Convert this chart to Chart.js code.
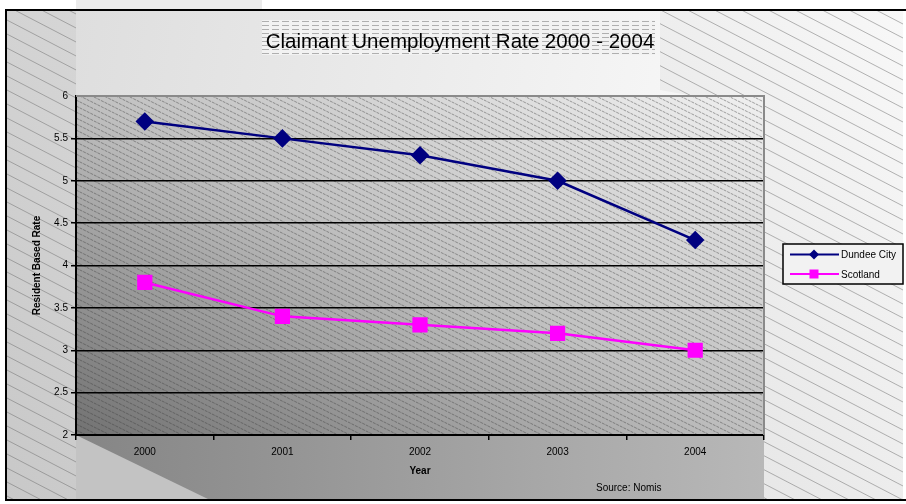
<!DOCTYPE html>
<html>
<head>
<meta charset="utf-8">
<script src="https://cdn.jsdelivr.net/npm/chart.js@4.4.1/dist/chart.umd.min.js"></script>
<style>
  html, body { margin: 0; padding: 0; background: #fff; }
</style>
</head>
<body>
<canvas id="chart" width="906" height="504"></canvas>
<script>
// data
const years = ['2000', '2001', '2002', '2003', '2004'];
const dundee = [5.7, 5.5, 5.3, 5.0, 4.3];
const scotland = [3.8, 3.4, 3.3, 3.2, 3.0];
const seriesNames = ['Dundee City', 'Scotland'];
const chartTitle = 'Claimant Unemployment Rate 2000 - 2004';
const sourceNote = 'Source: Nomis';
const yTitle = 'Resident Based Rate';
const xTitle = 'Year';

const FONT = 'Liberation Sans, Arial, sans-serif';

// diagonal hatch lines inside a rectangle
function hatch(ctx, x, y, w, h, gap, slope, color, dash) {
  ctx.save();
  ctx.beginPath();
  ctx.rect(x, y, w, h);
  ctx.clip();
  ctx.strokeStyle = color;
  ctx.lineWidth = 1;
  if (dash) ctx.setLineDash(dash);
  ctx.beginPath();
  for (let c = y - slope * w - gap; c < y + h + gap; c += gap) {
    ctx.moveTo(x, c);
    ctx.lineTo(x + w, c + slope * w);
  }
  ctx.stroke();
  ctx.restore();
}

function marker(ctx, style, x, y, r, color) {
  ctx.fillStyle = color;
  ctx.beginPath();
  if (style === 'rectRot') {
    ctx.moveTo(x, y - r);
    ctx.lineTo(x + r, y);
    ctx.lineTo(x, y + r);
    ctx.lineTo(x - r, y);
  } else {
    ctx.rect(x - r, y - r, 2 * r, 2 * r);
  }
  ctx.closePath();
  ctx.fill();
}

// Excel style backgrounds behind the chart
const backdrop = {
  id: 'backdrop',
  beforeDraw(chart) {
    const ctx = chart.ctx;
    const a = chart.chartArea;
    const W = chart.width, H = chart.height;
    const fx = 6, fy = 10, fr = W - 3, fb = H - 4;
    ctx.save();
    ctx.fillStyle = '#fff';
    ctx.fillRect(0, 0, W, H);
    ctx.fillStyle = '#ebebeb';
    ctx.fillRect(a.left, 0, 186, fy);

    // frame fill
    let g = ctx.createLinearGradient(fx, fb, fr, fy);
    g.addColorStop(0, '#c8c8c8');
    g.addColorStop(0.5, '#e0e0e0');
    g.addColorStop(1, '#f8f8f8');
    ctx.fillStyle = g;
    ctx.fillRect(fx, fy, fr - fx, fb - fy);
    hatch(ctx, fx, fy, fr - fx, fb - fy, 14, 0.52, 'rgba(110,110,110,0.5)');

    // top strip above the plot
    g = ctx.createLinearGradient(a.left, fy, a.left + 600, a.top);
    g.addColorStop(0, '#dedede');
    g.addColorStop(1, '#f6f6f6');
    ctx.fillStyle = g;
    ctx.beginPath();
    ctx.moveTo(a.left, fy);
    ctx.lineTo(a.left + 584, fy);
    ctx.lineTo(a.left + 584, a.top - 6);
    ctx.lineTo(a.right - 70, a.top);
    ctx.lineTo(a.left, a.top);
    ctx.closePath();
    ctx.fill();

    // bottom strip under the plot
    g = ctx.createLinearGradient(a.left, a.bottom, a.right, a.bottom);
    g.addColorStop(0, '#858585');
    g.addColorStop(1, '#b8b8b8');
    ctx.fillStyle = g;
    ctx.fillRect(a.left, a.bottom, a.right - a.left, fb - a.bottom);
    ctx.fillStyle = '#c3c3c3';
    ctx.beginPath();
    ctx.moveTo(a.left, a.bottom);
    ctx.lineTo(a.left + 134, fb);
    ctx.lineTo(a.left, fb);
    ctx.closePath();
    ctx.fill();

    // plot area gradient, dark bottom-left to light top-right
    const cx = (a.left + a.right) / 2, cy = (a.top + a.bottom) / 2;
    const w = a.right - a.left, h = a.bottom - a.top;
    const len = Math.hypot(w, h);
    const dx = h / len, dy = -w / len;
    const k = (w / 2) * dx + (h / 2) * -dy;
    g = ctx.createLinearGradient(cx - k * dx, cy - k * dy, cx + k * dx, cy + k * dy);
    g.addColorStop(0, '#727272');
    g.addColorStop(0.5, '#c0c0c0');
    g.addColorStop(1, '#f0f0f0');
    ctx.fillStyle = g;
    ctx.fillRect(a.left, a.top, w, h);
    hatch(ctx, a.left, a.top, w, h, 6, 0.5, 'rgba(60,60,60,0.45)', [3, 1]);

    // title box with horizontal dashes
    ctx.fillStyle = '#f2f2f2';
    ctx.fillRect(262, 20, 393, 35);
    ctx.strokeStyle = 'rgba(130,130,130,0.6)';
    ctx.lineWidth = 1;
    ctx.setLineDash([7, 3]);
    ctx.beginPath();
    for (let yy = 21.5; yy < 55; yy += 4) {
      ctx.moveTo(262, yy);
      ctx.lineTo(655, yy);
    }
    ctx.stroke();
    ctx.setLineDash([]);
    ctx.restore();
  },
  beforeDatasetsDraw(chart) {
    const ctx = chart.ctx;
    const a = chart.chartArea;
    ctx.save();
    ctx.strokeStyle = '#8a8a8a';
    ctx.lineWidth = 2;
    ctx.beginPath();
    ctx.moveTo(a.left, a.top);
    ctx.lineTo(a.right, a.top);
    ctx.lineTo(a.right, a.bottom);
    ctx.stroke();
    ctx.restore();
  },
  afterDraw(chart) {
    const ctx = chart.ctx;
    const a = chart.chartArea;
    const W = chart.width, H = chart.height;
    ctx.save();
    // title
    ctx.fillStyle = '#000';
    ctx.font = '20.5px ' + FONT;
    ctx.textAlign = 'center';
    ctx.textBaseline = 'alphabetic';
    ctx.fillText(chartTitle, 460, 48);
    // source note
    ctx.font = '10px ' + FONT;
    ctx.textAlign = 'left';
    ctx.fillText(sourceNote, 596, 491);

    // legend
    const lx = a.right + 19, ly = 244, lw = 120, lh = 40;
    ctx.fillStyle = '#f2f2f2';
    ctx.fillRect(lx, ly, lw, lh);
    ctx.strokeStyle = '#000';
    ctx.lineWidth = 1.5;
    ctx.strokeRect(lx, ly, lw, lh);
    chart.data.datasets.forEach((ds, i) => {
      const yy = ly + 10.5 + i * 19.5;
      ctx.strokeStyle = ds.borderColor;
      ctx.lineWidth = 2;
      ctx.beginPath();
      ctx.moveTo(lx + 7, yy);
      ctx.lineTo(lx + 56, yy);
      ctx.stroke();
      marker(ctx, ds.pointStyle, lx + 31, yy, ds.pointStyle === 'rectRot' ? 5 : 4.5, ds.backgroundColor);
      ctx.fillStyle = '#000';
      ctx.font = '10px ' + FONT;
      ctx.textBaseline = 'middle';
      ctx.fillText(ds.label, lx + 58, yy + 1);
    });

    // outer frame
    ctx.strokeStyle = '#000';
    ctx.lineWidth = 2;
    ctx.strokeRect(6, 10, W + 10, H - 14);
    ctx.restore();
  }
};

const ctx = document.getElementById('chart');

new Chart(ctx, {
  type: 'line',
  data: {
    labels: years,
    datasets: [{
      label: seriesNames[0],
      data: dundee,
      borderColor: '#000080',
      backgroundColor: '#000080',
      pointBackgroundColor: '#000080',
      pointBorderColor: '#000080',
      borderWidth: 2.5,
      pointStyle: 'rectRot',
      pointRadius: 7.5,
      pointHoverRadius: 7.5,
      tension: 0
    }, {
      label: seriesNames[1],
      data: scotland,
      borderColor: '#ff00ff',
      backgroundColor: '#ff00ff',
      pointBackgroundColor: '#ff00ff',
      pointBorderColor: '#ff00ff',
      borderWidth: 2.5,
      pointStyle: 'rect',
      pointRadius: 9,
      pointHoverRadius: 9,
      tension: 0
    }]
  },
  options: {
    responsive: false,
    animation: false,
    devicePixelRatio: 1,
    layout: { padding: { top: 96, right: 142, left: 0, bottom: 0 } },
    plugins: {
      legend: { display: false },
      tooltip: { enabled: false },
      title: { display: false }
    },
    scales: {
      x: {
        offset: true,
        grid: { display: true, drawOnChartArea: false, offset: true, tickLength: 5, color: '#000', lineWidth: 1.5 },
        border: { display: true, color: '#000', width: 2 },
        ticks: { color: '#000', font: { family: FONT, size: 10 }, padding: 6, maxRotation: 0 },
        title: { display: true, text: xTitle, color: '#000', font: { family: FONT, size: 10, weight: 'bold' }, padding: { top: 0, bottom: 27 } },
        afterFit(s) { s.height = 69; }
      },
      y: {
        min: 2,
        max: 6,
        grid: {
          tickLength: 5,
          color: c => (c.tick && c.tick.value === 6 ? 'rgba(0,0,0,0)' : '#000'),
          lineWidth: 1.5
        },
        border: { display: true, color: '#000', width: 2 },
        ticks: {
          stepSize: 0.5,
          color: '#000',
          font: { family: FONT, size: 10 },
          padding: 3,
          callback: v => String(v)
        },
        title: { display: true, text: yTitle, color: '#000', font: { family: FONT, size: 10, weight: 'bold' }, padding: { top: 31, bottom: 0 } },
        afterFit(s) { s.width = 76; }
      }
    }
  },
  plugins: [backdrop]
});
</script>
</body>
</html>
